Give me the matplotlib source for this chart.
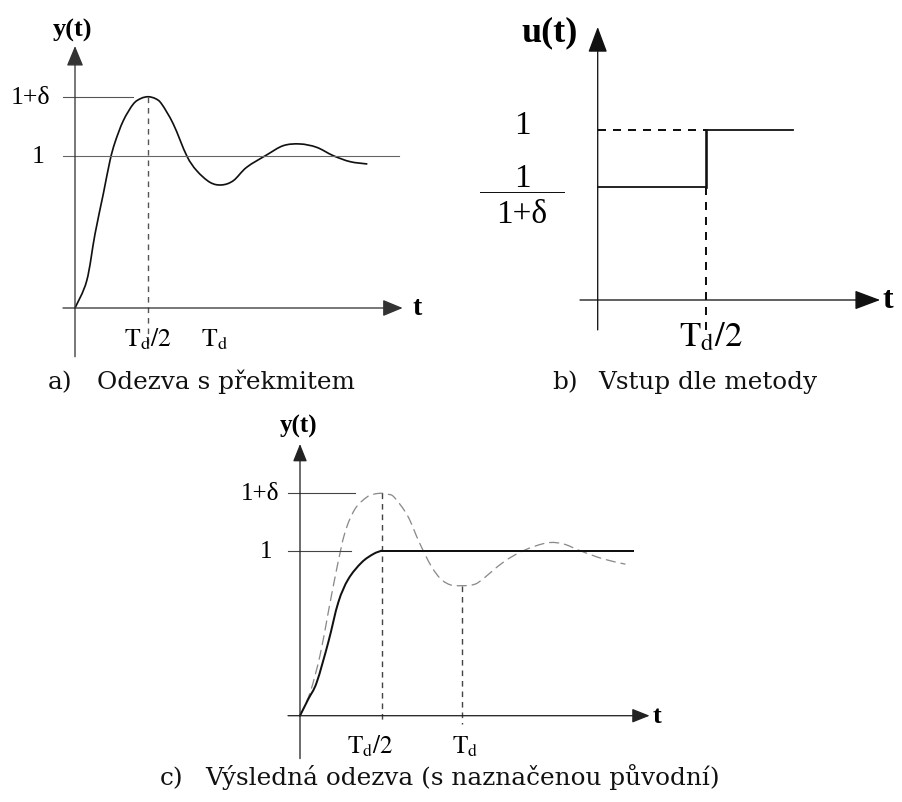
import matplotlib

matplotlib.use("Agg")
import matplotlib.pyplot as plt
import numpy as np
from matplotlib.patches import PathPatch
from matplotlib.path import Path

W, H = 902, 803

# a) step response with overshoot (t in units of Td/2, y in units of steady state)
t_a = [0.0, 0.16, 0.273, 0.386, 0.477, 0.546, 0.659, 0.795, 0.9, 1.0, 1.1, 1.183,
       1.341, 1.524, 1.66, 1.842, 2.0, 2.16, 2.342, 2.615, 2.842, 3.07, 3.297,
       3.524, 3.752, 3.98]
y_a = [0.0, 0.179, 0.486, 0.749, 0.967, 1.088, 1.23, 1.339, 1.376, 1.387, 1.374,
       1.339, 1.208, 1.0, 0.902, 0.825, 0.808, 0.836, 0.924, 1.005, 1.066, 1.077,
       1.055, 1.0, 0.961, 0.946]

# b) input by the method: reduced step, full step after Td/2
u_low = 0.665
u_high = 1.0
t_switch = 1.0
t_end_b = 1.81

# c) original response (dashed) and resulting response (solid)
t_c_orig = [0.0, 0.123, 0.245, 0.347, 0.45, 0.552, 0.675, 0.818, 0.91, 1.0, 1.08,
            1.156, 1.32, 1.463, 1.607, 1.729, 1.852, 1.984, 2.107, 2.209, 2.494,
            2.74, 3.027, 3.231, 3.436, 3.721, 3.988]
y_c_orig = [0.0, 0.139, 0.364, 0.627, 0.889, 1.111, 1.253, 1.324, 1.343, 1.348,
            1.342, 1.324, 1.212, 1.051, 0.909, 0.828, 0.792, 0.788, 0.792, 0.815,
            0.93, 1.0, 1.047, 1.041, 1.0, 0.95, 0.919]
t_c_rise = [0.0, 0.102, 0.205, 0.347, 0.47, 0.593, 0.757, 0.9, 1.0]
y_c_rise = [0.0, 0.101, 0.202, 0.445, 0.687, 0.828, 0.929, 0.98, 1.0]
t_c_end = 4.09

plt.rcParams["mathtext.fontset"] = "stix"
SERIF = "Liberation Serif"
CAPTION = "DejaVu Serif"


def px(v):
    # pixel length -> points
    return v * 72.0 / 100.0


def smooth_path(t, y):
    # Catmull-Rom through the given points, drawn as cubic Bezier segments
    p = np.column_stack([t, y]).astype(float)
    n = len(p)
    verts = [p[0]]
    codes = [Path.MOVETO]
    for i in range(n - 1):
        p0 = p[i - 1] if i > 0 else p[i]
        p3 = p[i + 2] if i + 2 < n else p[i + 1]
        verts += [p[i] + (p[i + 1] - p0) / 6, p[i + 1] - (p3 - p[i]) / 6, p[i + 1]]
        codes += [Path.CURVE4] * 3
    return Path(verts, codes)


def draw_curve(ax, t, y, **kw):
    ax.add_patch(PathPatch(smooth_path(t, y), fill=False, clip_on=False,
                           capstyle="round", joinstyle="round", **kw))


def make_panel(fig, box, origin, scale):
    l, t, r, b = box
    ax = fig.add_axes([l / W, 1 - b / H, (r - l) / W, (b - t) / H])
    ox, oy = origin
    sx, sy = scale
    ax.set_xlim((l - ox) / sx, (r - ox) / sx)
    ax.set_ylim((oy - b) / sy, (oy - t) / sy)
    ax.axis("off")
    return ax


def arrow_axes(ax, x0, x1, y0, y1, color="#222222", lw=1.2, head=(0.6, 0.25), ms=18):
    style = f"-|>,head_length={head[0]},head_width={head[1]}"
    props = dict(arrowstyle=style, mutation_scale=ms, lw=px(lw), color=color,
                 shrinkA=0, shrinkB=0)
    ax.annotate("", xy=(x1, 0), xytext=(x0, 0), arrowprops=props, annotation_clip=False)
    ax.annotate("", xy=(0, y1), xytext=(0, y0), arrowprops=props, annotation_clip=False)


fig = plt.figure(figsize=(W / 100, H / 100), dpi=100)
fig.patch.set_facecolor("white")

# ---------------- a) ----------------
ax = make_panel(fig, (0, 0, 450, 360), (75, 309), (73.3, 152.3))
i_pk = int(np.argmax(y_a))
t_pk, y_pk = t_a[i_pk], y_a[i_pk]
ax.plot([-0.164, 4.42], [1, 1], color="#666666", lw=px(1.1), clip_on=False)
ax.plot([-0.164, 0.79], [y_pk, y_pk], color="#555555", lw=px(1.1), clip_on=False)
ax.plot([t_pk, t_pk], [y_pk, -0.24], color="#555555", lw=px(1.4),
        dashes=(4, 3.5), clip_on=False)
arrow_axes(ax, -0.164, 4.47, -0.32, 1.72, color="#333333", lw=1.3,
           head=(0.65, 0.27), ms=19)
draw_curve(ax, t_a, y_a, edgecolor="#111111", lw=px(1.7))
ax.text(-0.03, 1.83, "y(t)", family=SERIF, weight="bold", fontsize=19,
        ha="center", va="center")
ax.text(4.67, 0, "t", family=SERIF, weight="bold", fontsize=20, ha="center", va="center")
ax.text(-0.34, y_pk, "1+δ", family=SERIF, fontsize=18.5, ha="right", va="center")
ax.text(-0.42, 1.0, "1", family=SERIF, fontsize=18.5, ha="right", va="center")
ax.text(t_pk, -0.2, r"$\mathrm{T_d/2}$", fontsize=18.5, ha="center", va="center")
ax.text(1.9, -0.2, r"$\mathrm{T_d}$", fontsize=18.5, ha="center", va="center")

# ---------------- b) ----------------
ax = make_panel(fig, (450, 0, 902, 360), (597.7, 301), (108, 170))
ax.plot([0, t_switch], [u_high, u_high], color="#111111", lw=px(2.0),
        dashes=(4, 3.5), clip_on=False)
ax.plot([t_switch, t_switch], [u_low, -0.21], color="#111111", lw=px(2.0),
        dashes=(4, 3.5), clip_on=False)
ax.plot([0, t_switch], [u_low, u_low], color="#111111", lw=px(1.8), clip_on=False)
ax.plot([t_switch, t_switch], [u_low, u_high], color="#111111", lw=px(2.6),
        clip_on=False)
ax.plot([t_switch, t_end_b], [u_high, u_high], color="#111111", lw=px(1.8),
        clip_on=False)
arrow_axes(ax, -0.164, 2.615, -0.176, 1.606, color="#111111", lw=1.3,
           head=(0.8, 0.3), ms=20)
ax.text(-0.45, 1.58, "u(t)", family=SERIF, weight="bold", fontsize=26,
        ha="center", va="center")
ax.text(2.69, 0, "t", family=SERIF, weight="bold", fontsize=23, ha="center", va="center")
ax.text(-0.70, 1.03, "1", family=SERIF, fontsize=24, ha="center", va="center")
ax.text(-0.70, 0.72, "1", family=SERIF, fontsize=24, ha="center", va="center")
ax.plot([-1.09, -0.31], [0.635, 0.635], color="#111111", lw=px(1.0), clip_on=False)
ax.text(-0.70, 0.51, "1+δ", family=SERIF, fontsize=24, ha="center", va="center")
ax.text(1.05, -0.21, r"$\mathrm{T_d/2}$", fontsize=25, ha="center", va="center")

# ---------------- c) ----------------
ax = make_panel(fig, (200, 400, 700, 770), (300, 716.7), (81.5, 165))
i_pk = int(np.argmax(y_c_orig))
t_pk, y_pk = t_c_orig[i_pk], y_c_orig[i_pk]
i_lo = i_pk + int(np.argmin(y_c_orig[i_pk:]))
t_lo, y_lo = t_c_orig[i_lo], y_c_orig[i_lo]
ax.plot([-0.147, 0.63], [1, 1], color="#444444", lw=px(1.1), clip_on=False)
ax.plot([-0.147, 0.68], [y_pk, y_pk], color="#444444", lw=px(1.1), clip_on=False)
ax.plot([t_pk, t_pk], [y_pk, -0.05], color="#444444", lw=px(1.4),
        dashes=(4, 3.5), clip_on=False)
ax.plot([t_lo, t_lo], [y_lo, -0.05], color="#444444", lw=px(1.4),
        dashes=(4, 3.5), clip_on=False)
draw_curve(ax, t_c_orig, y_c_orig, edgecolor="#8a8a8a", lw=px(1.3),
           linestyle=(0, (7, 4.5)))
arrow_axes(ax, -0.147, 4.29, -0.26, 1.647, color="#222222", lw=1.3,
           head=(0.6, 0.24), ms=18)
draw_curve(ax, t_c_rise, y_c_rise, edgecolor="#111111", lw=px(2.0))
ax.plot([t_c_rise[-1], t_c_end], [y_c_rise[-1], y_c_rise[-1]], color="#111111",
        lw=px(2.0), clip_on=False)
ax.text(-0.02, 1.76, "y(t)", family=SERIF, weight="bold", fontsize=18,
        ha="center", va="center")
ax.text(4.38, 0, "t", family=SERIF, weight="bold", fontsize=19, ha="center", va="center")
ax.text(-0.25, y_pk, "1+δ", family=SERIF, fontsize=18, ha="right", va="center")
ax.text(-0.34, 1.0, "1", family=SERIF, fontsize=18, ha="right", va="center")
ax.text(0.86, -0.18, r"$\mathrm{T_d/2}$", fontsize=18, ha="center", va="center")
ax.text(2.03, -0.18, r"$\mathrm{T_d}$", fontsize=18, ha="center", va="center")

# ---------------- captions ----------------
captions = [
    (48, 97, 389, "a)", "Odezva s překmitem"),
    (552, 598, 389, "b)", "Vstup dle metody"),
    (160, 205, 785, "c)", "Výsledná odezva (s naznačenou původní)"),
]
for x_lab, x_txt, y_base, lab, txt in captions:
    fig.text(x_lab / W, 1 - y_base / H, lab, family=CAPTION, fontsize=17.8,
             ha="left", va="baseline", color="#111111")
    fig.text(x_txt / W, 1 - y_base / H, txt, family=CAPTION, fontsize=17.8,
             ha="left", va="baseline", color="#111111")

fig.savefig("out.png", dpi=100, facecolor="white")
